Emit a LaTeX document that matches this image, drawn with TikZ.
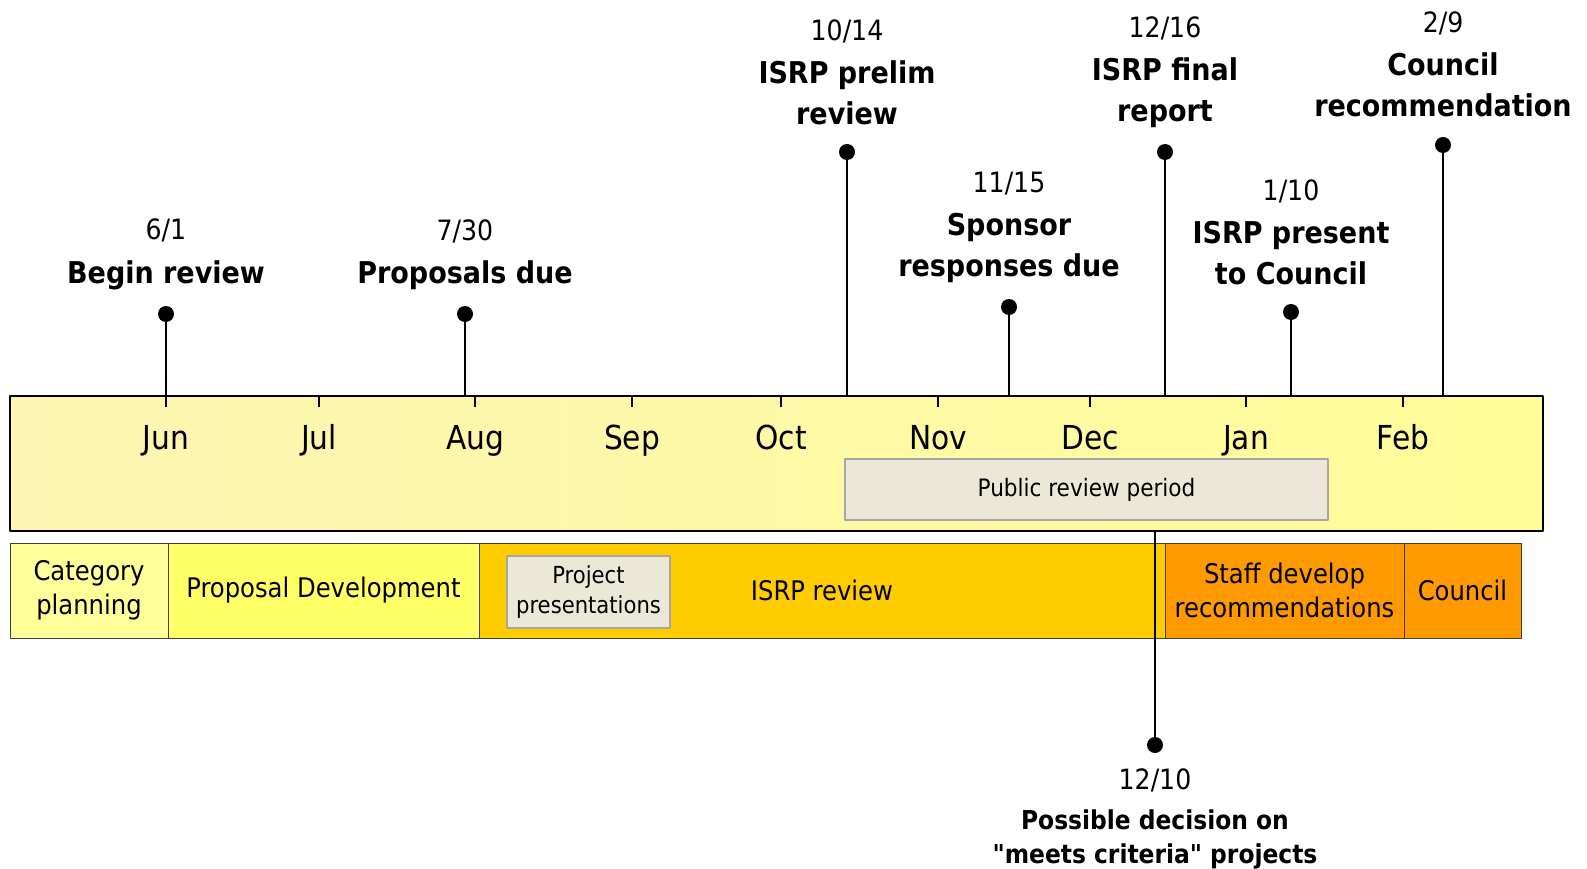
\documentclass[tikz,border=0pt]{standalone}
\usepackage{fontspec}
\setmainfont{DejaVu Sans Condensed}[Ligatures=TeXOff]
\usetikzlibrary{positioning}
\definecolor{barL}{HTML}{FCF5B3}
\definecolor{barR}{HTML}{FFFC99}
\definecolor{catY}{HTML}{FFFF99}
\definecolor{propY}{HTML}{FFFF66}
\definecolor{isrpY}{HTML}{FFCC00}
\definecolor{staffO}{HTML}{FF9900}
\definecolor{noteBg}{HTML}{EBE8D8}
\newcommand\monthfont{\fontsize{33}{38}\selectfont}
\newcommand\datefont{\fontsize{28}{34}\selectfont}
\newcommand\titlefont{\fontsize{30}{41}\selectfont\bfseries}
\newcommand\phasefont{\fontsize{27}{34}\selectfont}
\begin{document}
\begin{tikzpicture}[x=1pt, y=-1pt, line join=round]
\tikzset{
  dot/.style={circle, fill=black, inner sep=0pt, minimum size=16pt},
  stem/.style={line width=1.3pt},
  title/.style={font=\titlefont, align=center, inner sep=0pt},
  datelbl/.style={font=\datefont, inner sep=0pt, text height=20pt, text depth=0pt},
  phase/.style={draw=black!75, line width=1pt, inner sep=0pt, outer sep=0pt,
    minimum height=95pt, align=center, font=\phasefont, anchor=north west},
  note/.style={draw=black!35, line width=1.5pt, fill=noteBg, inner sep=0pt,
    outer sep=0pt, align=center}
}
\useasboundingbox (0,0) rectangle (1587,869);
% time axis
\node[draw, line width=1.5pt, left color=barL, right color=barR, inner sep=0pt,
  outer sep=0pt, minimum width=1533pt, minimum height=135pt, anchor=north west]
  (bar) at (10,396) {};
\foreach \m/\x in {Jun/166, Jul/319, Aug/475, Sep/632, Oct/781, Nov/938, Dec/1090, Jan/1246, Feb/1403}{
  \draw[stem] (\x,396) -- (\x,407);
  \node[font=\monthfont, anchor=base] (mon\m) at (\x,449) {\m};
}
\node[note, minimum width=483pt, minimum height=61pt, font=\fontsize{24}{28}\selectfont]
  (pub) at (1086.5,489.5) {Public review period};
% phases
\node[phase, fill=catY, minimum width=158pt] (cat) at (10,543) {Category\\planning};
\node[phase, fill=propY, minimum width=311pt, right=0pt of cat] (prop) {Proposal Development};
\node[phase, fill=isrpY, minimum width=686pt, right=0pt of prop] (isrp) {ISRP review};
\node[phase, fill=staffO, minimum width=239pt, right=0pt of isrp] (staff) {Staff develop\\recommendations};
\node[phase, fill=staffO, minimum width=117pt, right=0pt of staff] (coun) {Council};
\node[note, minimum width=163pt, minimum height=72pt, font=\fontsize{23.5}{30}\selectfont]
  (pres) at (588.5,592) {Project\\presentations};
% milestones
\foreach \x/\yd/\yt/\dt/\ttl [count=\idx] in {
  166/314/275/{6/1}/{Begin review},
  465/314/275/{7/30}/{Proposals due},
  847/152/93/{10/14}/{ISRP prelim\\review},
  1009/307/248/{11/15}/{Sponsor\\responses due},
  1165/152/93/{12/16}/{ISRP final\\report},
  1291/312/253/{1/10}/{ISRP present\\to Council},
  1443/145/85/{2/9}/{Council\\recommendation}}{
  \node[dot] (m\idx) at (\x,\yd) {};
  \draw[stem] (m\idx) -- (m\idx |- bar.north);
  \node[title] (t\idx) at (\x,\yt) {\ttl};
  \node[datelbl, above=20pt of t\idx] (d\idx) {\dt};
}
\node[dot] (m8) at (1155,745) {};
\draw[stem] (m8) -- (m8 |- bar.south);
\node[datelbl, below=16pt of m8] (d8) {12/10};
\node[title, font=\fontsize{26}{34}\selectfont\bfseries, below=20pt of d8] (t8)
  {Possible decision on\\"meets criteria" projects};
\end{tikzpicture}
\end{document}
